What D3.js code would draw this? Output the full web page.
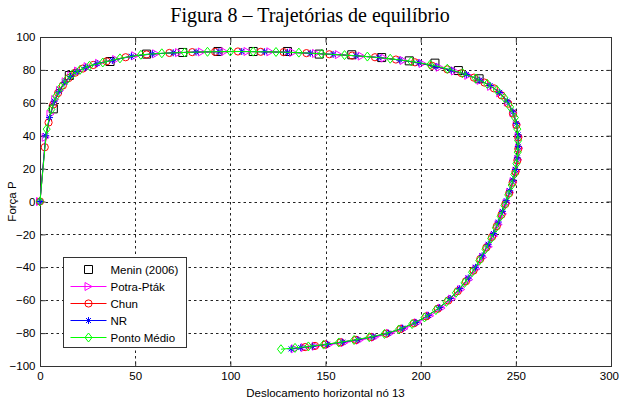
<!DOCTYPE html>
<html>
<head>
<meta charset="utf-8">
<script src="https://cdn.jsdelivr.net/npm/d3@7"></script>
<style>
  body { margin: 0; background: #fff; }
  text { font-family: Arial, "Liberation Sans", sans-serif; }
</style>
</head>
<body>
<svg id="chart" width="619" height="403"></svg>
<script>
// values
const title = "Figura 8 \u2013 Trajet\u00f3rias de equil\u00edbrio";
const xLabel = "Deslocamento horizontal n\u00f3 13";
const yLabel = "For\u00e7a P";
const xTicks = [0, 50, 100, 150, 200, 250, 300];
const yTicks = [-100, -80, -60, -40, -20, 0, 20, 40, 60, 80, 100];

const menin = [[7,56.3],[15.4,76.6],[36.8,85.1],[56,89.6],[75,90.6],[93.5,91.2],[112,91.2],[130,91.2],
  [146.7,89.6],[163.8,89.2],[179.5,87.5],[194,85.5],[207.5,84.1],[219.8,79.6],[230.7,74.6]];

const potra = [[0,0],[3,39],[5.5,53],[8,62],[10.5,67.5],[13.5,72.8],[16.5,76.5],[20,79.3],[25,82],[31,84],
  [40,86.3],[50,88.6],[61,89.8],[73,90.5],[85,90.9],[97,91.1],[109,91.2],[121,91],[133,90.6],[145,90],
  [157,89.3],[169,88.4],[181,87.2],[191,85.7],[201,83.9],[210,81.6],[218,79.3],[225,76.7],[231.5,73.6],
  [237,70],[241.8,66],[245.8,60.5],[248.8,54],[250.5,47],[251.5,39.5],[251.8,32.5],[251.3,25.5],[250.3,18.5],
  [248.8,12],[247,5.5],[245.2,-1],[243.2,-7.5],[241,-14],[238.5,-21],[235.8,-27.5],[232.8,-34],[229.3,-41],
  [225.5,-47.5],[221.3,-53.5],[216.5,-59.3],[211,-64.8],[205,-69.5],[198.5,-73.7],[191.5,-77.3],[184,-80.2],
  [176,-82.5],[168,-84.3],[160,-85.8],[152,-87],[145,-88],[139,-88.8],[134,-89.5]];

const chun = [[0,0],[2.5,33],[4.5,48],[7,59],[9.5,66],[12,70.5],[15,75],[18.5,78.3],[22.5,80.8],[28,83],
  [35,85.2],[45,87.7],[56,89.4],[68,90.3],[80,90.8],[92,91],[104,91.2],[116,91],[128,90.8],[140,90.2],
  [152,89.5],[164,88.7],[176,87.7],[187,86.3],[197,84.6],[206,82.5],[214,80.3],[221.5,78],[228,75.3],
  [233.5,72.3],[238.5,68.8],[242.5,64.5],[246,59.5],[248.5,53.5],[250.3,46.5],[251.3,39],[251.3,32],
  [250.8,25],[249.8,18],[248.3,11.5],[246.5,5],[244.5,-1.5],[242.5,-8],[240,-15],[237.5,-21.5],[234.5,-28],
  [231.3,-35],[227.8,-42],[223.8,-48.5],[219.5,-54.5],[214.5,-60.2],[209,-65.2],[203,-69.8],[196.5,-74],
  [189.5,-77.5],[182,-80.3],[174,-82.4],[166,-84.1],[158,-85.6],[150,-86.9],[144.5,-87.8],[139.3,-88.5]];

const nr = [[0,0],[3,40],[5,51],[7.5,61],[10,67],[13,72.5],[16,76],[19.5,79],[24,81.5],[30,83.8],
  [38,85.8],[48,88.3],[59,89.7],[70,90.4],[82,90.8],[94,91.1],[106,91.2],[118,91],[130,90.7],[142,90.1],
  [154,89.4],[166,88.6],[178,87.5],[189,86],[199,84.3],[208,82],[216,79.8],[224,77.2],[231,73.8],
  [236.5,70.5],[241.5,66.3],[245.5,61],[248.5,54.5],[250.3,47.5],[251.2,40.5],[251.3,33.5],[250.8,26.5],
  [249.8,19.5],[248.5,13],[246.8,6.5],[245,0.5],[243,-6],[240.8,-12.5],[238.3,-19.5],[235.5,-26],[232.3,-33],
  [228.8,-40],[225,-46.5],[220.5,-53],[215.5,-59],[210,-64.5],[204,-69.2],[197.5,-73.5],[190.5,-77],
  [183,-80],[175,-82.2],[167,-84],[159,-85.5],[151,-86.8],[143,-88],[137,-88.8],[131.9,-89.6]];

const ponto = [[0,0],[3.5,44],[6,56],[8.5,64],[11,69.5],[14,74],[17,77.3],[21,80],[26,82.5],[33,84.5],
  [42,87],[53,89.2],[64,90.1],[76,90.6],[88,91],[100,91.2],[112,91.1],[124,90.9],[136,90.5],[148,89.8],
  [160,89],[172,88.1],[184,86.8],[195,85.2],[205,83.2],[214,80.7],[222,78],[229,74.8],[235,71.5],
  [240,67.8],[244,63],[247,57.5],[249.5,51],[250.8,44],[251.2,37],[251,30],[250.3,23],[249.2,16.5],
  [247.8,10],[246,4],[244,-2.5],[242,-9],[239.5,-16],[237,-22.5],[234,-29],[230.8,-36],[227,-43],
  [223,-49.5],[218.5,-55.5],[213.5,-61],[208,-66],[202,-70.5],[195.5,-74.5],[188.5,-77.8],[181,-80.5],
  [173,-82.5],[165,-84.2],[157,-85.7],[149,-87],[141,-88.1],[134,-89],[126.6,-89.8]];

const series = [
  { name: "Menin (2006)", data: menin, color: "#000000", marker: "square", line: false },
  { name: "Potra-Pt\u00e1k", data: potra, color: "#ff00ff", marker: "triangle", line: true },
  { name: "Chun", data: chun, color: "#ff0000", marker: "circle", line: true },
  { name: "NR", data: nr, color: "#0000ff", marker: "star", line: true },
  { name: "Ponto M\u00e9dio", data: ponto, color: "#00ff00", marker: "diamond", line: true }
];

const svg = d3.select("#chart");
const plotLeft = 40, plotRight = 611, plotTop = 37, plotBottom = 366;

const x = d3.scaleLinear().domain([0, 300]).range([plotLeft, plotRight]);
const y = d3.scaleLinear().domain([-100, 100]).range([plotBottom, plotTop]);

// marker shapes centred on 0,0
function markerPath(type) {
  switch (type) {
    case "square": return "M-4,-4H4V4H-4Z";
    case "triangle": return "M-3.5,-4L3.5,0L-3.5,4Z";
    case "diamond": return "M0,-4.5L3.5,0L0,4.5L-3.5,0Z";
    case "star": return "M-3.5,0H3.5M0,-3.5V3.5M-2.5,-2.5L2.5,2.5M-2.5,2.5L2.5,-2.5";
    default: return d3.arc()({ innerRadius: 0, outerRadius: 3.6, startAngle: 0, endAngle: 2 * Math.PI });
  }
}

// grid
const grid = svg.append("g").attr("stroke", "#222").attr("stroke-width", 1)
  .attr("stroke-dasharray", "2.5,3");
grid.selectAll("line.gx")
  .data(xTicks.slice(1, -1))
  .enter().append("line")
  .attr("x1", d => Math.round(x(d)) + 0.5).attr("x2", d => Math.round(x(d)) + 0.5)
  .attr("y1", plotTop).attr("y2", plotBottom);
grid.selectAll("line.gy")
  .data(yTicks.slice(1, -1))
  .enter().append("line")
  .attr("y1", d => Math.round(y(d)) + 0.5).attr("y2", d => Math.round(y(d)) + 0.5)
  .attr("x1", plotLeft).attr("x2", plotRight);

// axes with inward ticks
svg.append("g")
  .attr("transform", "translate(0," + (plotBottom + 0.5) + ")")
  .call(d3.axisBottom(x).tickValues(xTicks).tickSizeInner(-5).tickSizeOuter(0).tickPadding(5.5));
svg.append("g")
  .attr("transform", "translate(" + (plotLeft + 0.5) + ",0)")
  .call(d3.axisLeft(y).tickValues(yTicks).tickSizeInner(-5).tickSizeOuter(0).tickPadding(5));
svg.append("g")
  .attr("transform", "translate(0," + (plotTop + 0.5) + ")")
  .call(d3.axisTop(x).tickValues(xTicks).tickSizeInner(-5).tickSizeOuter(0).tickFormat(""));
svg.append("g")
  .attr("transform", "translate(" + (plotRight + 0.5) + ",0)")
  .call(d3.axisRight(y).tickValues(yTicks).tickSizeInner(-5).tickSizeOuter(0).tickFormat(""));

svg.selectAll(".domain").remove();
svg.selectAll(".tick line").attr("stroke", "#333");
svg.selectAll(".tick text").attr("font-size", "11.5px").attr("fill", "#000")
  .style("font-family", "Arial, 'Liberation Sans', sans-serif");

// last x label sits against the right edge of the page
svg.selectAll(".tick text").filter(d => d === 300)
  .attr("text-anchor", "end").attr("x", 7.5);

svg.append("rect")
  .attr("x", plotLeft + 0.5).attr("y", plotTop + 0.5)
  .attr("width", plotRight - plotLeft).attr("height", plotBottom - plotTop)
  .attr("fill", "none").attr("stroke", "#333").attr("stroke-width", 1);

// curves
const line = d3.line().x(d => x(d[0])).y(d => y(d[1]));
const plot = svg.append("g");

series.forEach(s => {
  const g = plot.append("g");
  if (s.line) {
    g.append("path")
      .attr("d", line(s.data))
      .attr("fill", "none")
      .attr("stroke", s.color)
      .attr("stroke-width", 1);
  }
  g.selectAll("path.mk")
    .data(s.data)
    .enter().append("path")
    .attr("class", "mk")
    .attr("transform", d => "translate(" + x(d[0]) + "," + y(d[1]) + ")")
    .attr("d", markerPath(s.marker))
    .attr("fill", "none")
    .attr("stroke", s.color)
    .attr("stroke-width", 1);
});

// legend
const legend = svg.append("g").attr("transform", "translate(63.5,257.5)");
legend.append("rect")
  .attr("width", 123).attr("height", 90)
  .attr("fill", "#fff").attr("stroke", "#333").attr("stroke-width", 1);

series.forEach((s, i) => {
  const row = legend.append("g").attr("transform", "translate(0," + (12 + i * 17) + ")");
  if (s.line) {
    row.append("line")
      .attr("x1", 7).attr("x2", 43)
      .attr("stroke", s.color).attr("stroke-width", 1);
  }
  row.append("path")
    .attr("transform", "translate(25,0)")
    .attr("d", markerPath(s.marker))
    .attr("fill", "none").attr("stroke", s.color).attr("stroke-width", 1);
  row.append("text")
    .attr("x", 47).attr("y", 4)
    .attr("font-size", "11.5px")
    .text(s.name);
});

// labels
svg.append("text")
  .attr("x", (plotLeft + plotRight) / 2).attr("y", 397)
  .attr("text-anchor", "middle").attr("font-size", "11.5px")
  .text(xLabel);

svg.append("text")
  .attr("transform", "translate(16," + y(0) + ") rotate(-90)")
  .attr("text-anchor", "middle").attr("font-size", "11.5px")
  .text(yLabel);

svg.append("text")
  .attr("x", 310).attr("y", 22)
  .attr("text-anchor", "middle")
  .style("font-family", "'Liberation Serif', 'Times New Roman', serif")
  .attr("font-size", "20px")
  .text(title);
</script>
</body>
</html>
